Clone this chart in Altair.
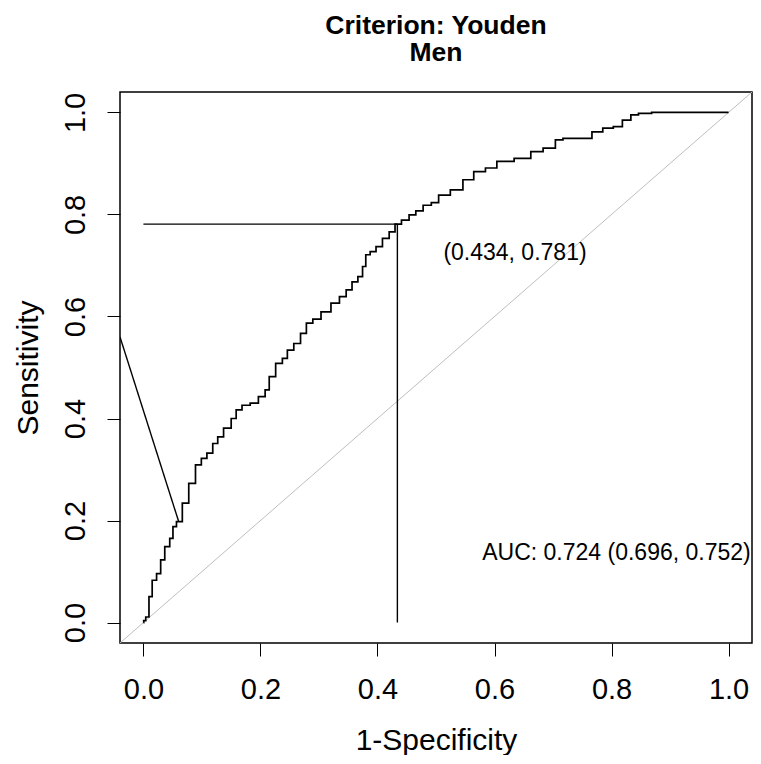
import altair as alt
import pandas as pd

# ROC curve (x = 1-Specificity, y = Sensitivity)
fpr = [0.000, 0.001, 0.007, 0.012, 0.018, 0.027, 0.032, 0.041, 0.049, 0.052,
       0.061, 0.072, 0.083, 0.095, 0.103, 0.114, 0.123, 0.131, 0.143, 0.157,
       0.160, 0.177, 0.188, 0.205, 0.211, 0.219, 0.233, 0.242, 0.250, 0.264,
       0.273, 0.284, 0.295, 0.312, 0.329, 0.341, 0.352, 0.361, 0.372, 0.377,
       0.383, 0.392, 0.403, 0.414, 0.426, 0.434, 0.448, 0.460, 0.471, 0.485,
       0.499, 0.510, 0.539, 0.553, 0.576, 0.593, 0.615, 0.652, 0.672, 0.694,
       0.714, 0.720, 0.759, 0.774, 0.796, 0.810, 0.827, 0.839, 0.853, 0.884,
       1.000]
tpr = [0.000, 0.004, 0.011, 0.051, 0.083, 0.096, 0.123, 0.149, 0.165, 0.188,
       0.198, 0.234, 0.273, 0.309, 0.322, 0.332, 0.351, 0.364, 0.381, 0.400,
       0.417, 0.426, 0.430, 0.443, 0.456, 0.482, 0.508, 0.518, 0.534, 0.547,
       0.567, 0.587, 0.595, 0.609, 0.626, 0.639, 0.652, 0.668, 0.678, 0.698,
       0.721, 0.727, 0.737, 0.753, 0.766, 0.781, 0.789, 0.799, 0.807, 0.818,
       0.823, 0.838, 0.848, 0.868, 0.884, 0.891, 0.904, 0.910, 0.923, 0.930,
       0.946, 0.949, 0.949, 0.962, 0.969, 0.972, 0.985, 0.995, 0.998, 1.000,
       1.000]

# chance diagonal (spans the whole plotting region)
diag_x = [-0.04, 1.04]
diag_y = [-0.04, 1.04]

# Youden threshold
thr_x = 0.434
thr_y = 0.781
thr_label = "(0.434, 0.781)"

# extra slanted segment seen at the left
seg_x = [-0.04, 0.060]
seg_y = [0.560, 0.199]

auc_label = "AUC: 0.724 (0.696, 0.752)"
auc_x = 0.579
auc_y = 0.1225

tick_vals = [0.0, 0.2, 0.4, 0.6, 0.8, 1.0]
domain = [-0.04, 1.04]

FONT = "Liberation Sans"
W, H = 632, 551

curve_df = pd.DataFrame({"x": fpr, "y": tpr, "i": range(len(fpr))})
diag_df = pd.DataFrame({"x": diag_x, "y": diag_y, "i": [0, 1]})
guide_df = pd.DataFrame({
    "x": [0.0, thr_x, thr_x, thr_x, seg_x[0], seg_x[1]],
    "y": [thr_y, thr_y, 0.0, thr_y, seg_y[0], seg_y[1]],
    "seg": ["h", "h", "v", "v", "s", "s"],
    "i": [0, 1, 0, 1, 0, 1],
})
thr_df = pd.DataFrame({"x": [thr_x], "y": [thr_y], "label": [thr_label]})
auc_df = pd.DataFrame({"x": [auc_x], "y": [auc_y], "label": [auc_label]})

xs = alt.Scale(domain=domain, nice=False, zero=False)
ys = alt.Scale(domain=domain, nice=False, zero=False)


def X():
    return alt.X("x:Q", scale=xs, title="1-Specificity",
                 axis=alt.Axis(values=tick_vals, format=".1f", labelFlush=False,
                               labelOverlap=False, labelPadding=42,
                               labelBaseline="alphabetic",
                               titleX=W / 2, titleY=106, titleAlign="center",
                               titleBaseline="alphabetic"))


def Y():
    return alt.Y("y:Q", scale=ys, title="Sensitivity",
                 axis=alt.Axis(values=tick_vals, format=".1f", labelFlush=False,
                               labelOverlap=False, labelAngle=-90,
                               labelAlign="center", labelBaseline="alphabetic",
                               labelPadding=23,
                               titleAngle=-90, titleX=-82.5, titleY=H / 2,
                               titleAlign="center", titleBaseline="alphabetic"))


diag = alt.Chart(diag_df).mark_line(color="#BEBEBE", strokeWidth=1, clip=True).encode(
    x=X(), y=Y(), order="i:Q")
curve = alt.Chart(curve_df).mark_line(color="black", strokeWidth=1.7, interpolate="step",
                                      clip=True).encode(x=X(), y=Y(), order="i:Q")
guides = alt.Chart(guide_df).mark_line(color="black", strokeWidth=1.4, clip=True).encode(
    x=X(), y=Y(), detail="seg:N", order="i:Q")
thr_text = alt.Chart(thr_df).mark_text(align="left", baseline="alphabetic", dx=46, dy=36,
                                       fontSize=23, font=FONT, color="black").encode(
    x=X(), y=Y(), text="label:N")
auc_text = alt.Chart(auc_df).mark_text(align="left", baseline="alphabetic",
                                       fontSize=23, font=FONT, color="black").encode(
    x=X(), y=Y(), text="label:N")

chart = alt.layer(diag, curve, guides, thr_text, auc_text).properties(
    width=W,
    height=H,
    background="white",
    title=alt.Title(["Criterion: Youden", "Men"], fontSize=26.5, font=FONT,
                    fontWeight="bold", anchor="middle", baseline="alphabetic",
                    offset=4.5, lineHeight=27, frame="group", color="black"),
    padding={"left": 112, "top": 84, "right": 1, "bottom": 112},
    autosize=alt.AutoSizeParams(type="none"),
).configure_view(
    stroke="black", strokeWidth=1.5
).configure_axis(
    domain=False, grid=False, ticks=True, tickSize=13, tickColor="black",
    tickWidth=1, labelFont=FONT, labelFontSize=29, labelColor="black",
    titleFont=FONT, titleFontSize=30, titleFontWeight="normal", titleColor="black",
)

chart.save("out.html", embed_options={"renderer": "svg", "actions": False})
